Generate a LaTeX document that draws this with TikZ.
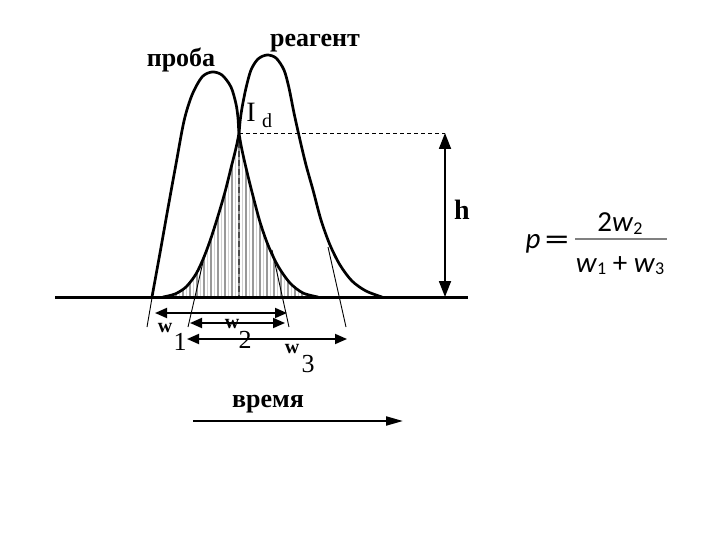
\documentclass[tikz,border=0pt]{standalone}
\usepackage{fontspec}
\setmainfont{Liberation Serif}
\newfontfamily\formfont{Carlito}
\usetikzlibrary{arrows.meta}
\begin{document}
\begin{tikzpicture}[x=1pt,y=-1pt,
  curve/.style={line width=2.7pt, line join=round, line cap=round},
  thinline/.style={line width=0.9pt},
  hatchdark/.style={line width=1.9pt, draw=gray!80},
  hatchlight/.style={line width=0.8pt, draw=gray!35},
  dimarrow/.style={line width=1.8pt, {Triangle[length=12pt,width=10pt]}-{Triangle[length=12pt,width=10pt]}},
  harrow/.style={line width=1.8pt, {Triangle[length=16pt,width=12pt]}-{Triangle[length=16pt,width=12pt]}},
  timearrow/.style={line width=2pt, -{Triangle[length=17pt,width=9pt]}},
  bigbold/.style={font=\fontsize{26}{26}\selectfont\bfseries, inner sep=0pt, anchor=base},
  wlet/.style={font=\fontsize{20}{20}\selectfont\bfseries, inner sep=0pt, anchor=base},
  wdig/.style={font=\fontsize{26}{26}\selectfont, inner sep=0pt, anchor=base},
  form/.style={font=\formfont\fontsize{29}{29}\selectfont, inner sep=0pt, anchor=base}
]
\useasboundingbox (0,0) rectangle (720,540);

% hatched overlap region
\begin{scope}
  \clip plot[smooth] coordinates {(152,297) (160,253) (168,208) (176,164) (184,121) (192,95) (202,77) (212,72) (222,75) (231,87) (236,104) (238,118) (239,133) (242,150) (247,172) (253,196) (260,222) (268,245) (278,266) (290,283) (303,293) (318,297)} -- cycle;
  \clip plot[smooth] coordinates {(163,297) (175,294) (186,287) (196,274) (204,257) (211,238) (218,216) (225,192) (231,168) (236,148) (239,133) (240,122) (242,108) (246,88) (251,70) (258,59) (267,55) (276,58) (284,70) (289,88) (294,113) (300,140) (306,165) (313,190) (321,220) (330,245) (340,265) (352,281) (366,291) (382,297)} -- cycle;
  \foreach \x in {169,176,...,316} {
    \draw[hatchdark] (\x,100) -- (\x,297);
    \draw[hatchlight] (\x+3.5,100) -- (\x+3.5,297);
  }
\end{scope}

% named points
\coordinate (apex) at (239,133);
\coordinate (apexfoot) at (239,297);
\coordinate (htop) at (445,133);
\coordinate (hbot) at (445,297);
\coordinate (bl) at (55,297);
\coordinate (br) at (468,297);

% dashed centre line
\draw[line width=2.4pt, draw=gray!60!black, dash pattern=on 6pt off 3pt] (apex) -- (apexfoot);

% curves
\draw[curve] plot[smooth] coordinates {(152,297) (160,253) (168,208) (176,164) (184,121) (192,95) (202,77) (212,72) (222,75) (231,87) (236,104) (238,118) (239,133) (242,150) (247,172) (253,196) (260,222) (268,245) (278,266) (290,283) (303,293) (318,297)};
\draw[curve] plot[smooth] coordinates {(163,297) (175,294) (186,287) (196,274) (204,257) (211,238) (218,216) (225,192) (231,168) (236,148) (239,133) (240,122) (242,108) (246,88) (251,70) (258,59) (267,55) (276,58) (284,70) (289,88) (294,113) (300,140) (306,165) (313,190) (321,220) (330,245) (340,265) (352,281) (366,291) (382,297)};

% baseline
\draw[line width=3pt] (bl) -- (br);

% tangent extension lines
\coordinate (t1a) at (153,292); \coordinate (t1b) at (147,327);
\coordinate (t2a) at (203,262); \coordinate (t2b) at (188,327);
\coordinate (t3a) at (272,250); \coordinate (t3b) at (289,327);
\coordinate (t4a) at (328,247); \coordinate (t4b) at (346,327);
\draw[thinline] (t1a) -- (t1b);
\draw[thinline] (t2a) -- (t2b);
\draw[thinline] (t3a) -- (t3b);
\draw[thinline] (t4a) -- (t4b);

% width arrows
\coordinate (a1l) at (155,313); \coordinate (a1r) at (287,313);
\coordinate (a2l) at (190,323); \coordinate (a2r) at (285,323);
\coordinate (a3l) at (187,339); \coordinate (a3r) at (347,339);
\draw[dimarrow] (a1l) -- (a1r);
\draw[dimarrow] (a2l) -- (a2r);
\draw[dimarrow] (a3l) -- (a3r);

% height
\draw[thinline, dash pattern=on 4pt off 3pt] (apex) -- (htop);
\draw[harrow] (htop) -- (hbot);

% labels
\node[bigbold] (proba) at (181,67) {проба};
\node[bigbold] (reag) at (315,47) {реагент};
\node[bigbold, font=\fontsize{28}{28}\selectfont\bfseries] (hl) at (462,220) {h};
\node[font=\fontsize{28}{28}\selectfont, inner sep=0pt, anchor=base] (Il) at (251,122) {I};
\node[font=\fontsize{20}{20}\selectfont, inner sep=0pt, anchor=base] (dl) at (267,128) {d};

\node[wlet] (w1) at (165,332) {w};
\node[wdig] (n1) at (180,350) {1};
\node[wlet] (w2) at (232,328) {w};
\node[wdig] (n2) at (245,348) {2};
\node[wlet] (w3) at (292,353) {w};
\node[wdig] (n3) at (308,372) {3};

% time axis
\node[bigbold] (vremya) at (268,407) {время};
\coordinate (tl) at (193,421); \coordinate (tr) at (403,421);
\draw[timearrow] (tl) -- (tr);

% formula
\node[form] (pp) at (533,248) {\itshape p};
\node[form, anchor=center] (eq) at (557,243) {\scalebox{1.7}[1.15]{=}};
\coordinate (fl) at (575,239); \coordinate (fr) at (667,239);
\draw[line width=1.4pt, draw=gray] (fl) -- (fr);
\node[form] (num) at (620,232) {2\textit{w}\raisebox{-2pt}{\fontsize{18}{18}\selectfont 2}};
\node[form] (den) at (620,272) {\textit{w}\raisebox{-2pt}{\fontsize{18}{18}\selectfont 1} + \textit{w}\raisebox{-2pt}{\fontsize{18}{18}\selectfont 3}};
\end{tikzpicture}
\end{document}
